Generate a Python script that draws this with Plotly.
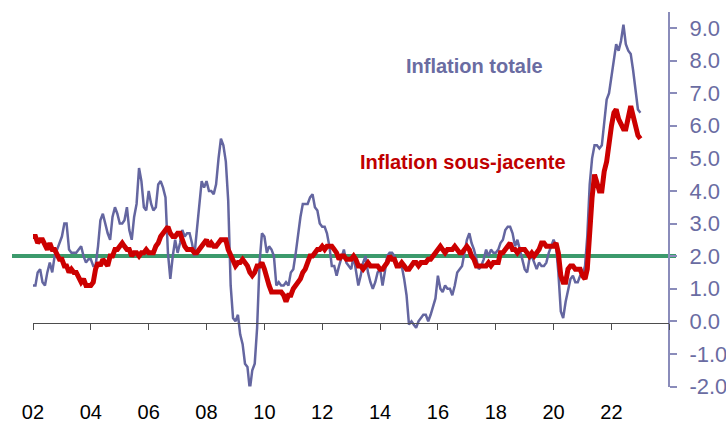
import plotly.graph_objects as go
import pandas as pd

# US CPI, 12-month % change, monthly Jan 2002 - Jan 2023
inflation_totale = [
    1.1, 1.1, 1.5, 1.6, 1.2, 1.1, 1.5, 1.8, 1.5, 2.0, 2.2, 2.4,   # 2002
    2.6, 3.0, 3.0, 2.2, 2.1, 2.1, 2.1, 2.2, 2.3, 2.0, 1.8, 1.9,   # 2003
    1.9, 1.7, 1.7, 2.3, 3.1, 3.3, 3.0, 2.7, 2.5, 3.2, 3.5, 3.3,   # 2004
    3.0, 3.0, 3.1, 3.5, 2.8, 2.5, 3.2, 3.6, 4.7, 4.3, 3.5, 3.4,   # 2005
    4.0, 3.6, 3.4, 3.5, 4.2, 4.3, 4.1, 3.8, 2.1, 1.3, 2.0, 2.5,   # 2006
    2.1, 2.4, 2.8, 2.6, 2.7, 2.7, 2.4, 2.0, 2.8, 3.5, 4.3, 4.1,   # 2007
    4.3, 4.0, 4.0, 3.9, 4.2, 5.0, 5.6, 5.4, 4.9, 3.7, 1.1, 0.1,   # 2008
    0.0, 0.2, -0.4, -0.7, -1.3, -1.4, -2.1, -1.5, -1.3, -0.2, 1.8, 2.7,  # 2009
    2.6, 2.1, 2.3, 2.2, 2.0, 1.1, 1.2, 1.1, 1.1, 1.2, 1.1, 1.5,   # 2010
    1.6, 2.1, 2.7, 3.2, 3.6, 3.6, 3.6, 3.8, 3.9, 3.5, 3.4, 3.0,   # 2011
    2.9, 2.9, 2.7, 2.3, 1.7, 1.7, 1.4, 1.7, 2.0, 2.2, 1.8, 1.7,   # 2012
    1.6, 2.0, 1.5, 1.1, 1.4, 1.8, 2.0, 1.5, 1.2, 1.0, 1.2, 1.5,   # 2013
    1.6, 1.1, 1.5, 2.0, 2.1, 2.1, 2.0, 1.7, 1.7, 1.7, 1.3, 0.8,   # 2014
    -0.1, 0.0, -0.1, -0.2, 0.0, 0.1, 0.2, 0.2, 0.0, 0.2, 0.5, 0.7,  # 2015
    1.4, 1.0, 0.9, 1.1, 1.0, 1.0, 0.8, 1.1, 1.5, 1.6, 1.7, 2.1,   # 2016
    2.5, 2.7, 2.4, 2.2, 1.9, 1.6, 1.7, 1.9, 2.2, 2.0, 2.2, 2.1,   # 2017
    2.1, 2.2, 2.4, 2.5, 2.8, 2.9, 2.9, 2.7, 2.3, 2.5, 2.2, 1.9,   # 2018
    1.6, 1.5, 1.9, 2.0, 1.8, 1.6, 1.8, 1.7, 1.7, 1.8, 2.1, 2.3,   # 2019
    2.5, 2.3, 1.5, 0.3, 0.1, 0.6, 1.0, 1.3, 1.4, 1.2, 1.2, 1.4,   # 2020
    1.4, 1.7, 2.6, 4.2, 5.0, 5.4, 5.4, 5.3, 5.4, 6.2, 6.8, 7.0,   # 2021
    7.5, 7.9, 8.5, 8.3, 8.6, 9.1, 8.5, 8.3, 8.2, 7.7, 7.1, 6.5,   # 2022
    6.4,                                                          # 2023
]

inflation_sous_jacente = [
    2.6, 2.6, 2.4, 2.5, 2.5, 2.3, 2.2, 2.4, 2.2, 2.2, 2.0, 1.9,   # 2002
    1.9, 1.7, 1.7, 1.5, 1.6, 1.5, 1.5, 1.3, 1.2, 1.3, 1.1, 1.1,   # 2003
    1.1, 1.2, 1.6, 1.8, 1.7, 1.9, 1.8, 1.7, 2.0, 2.0, 2.2, 2.2,   # 2004
    2.3, 2.4, 2.3, 2.2, 2.2, 2.0, 2.1, 2.1, 2.0, 2.1, 2.1, 2.2,   # 2005
    2.1, 2.1, 2.1, 2.3, 2.4, 2.6, 2.7, 2.8, 2.9, 2.7, 2.6, 2.6,   # 2006
    2.7, 2.7, 2.5, 2.3, 2.2, 2.2, 2.2, 2.1, 2.1, 2.2, 2.3, 2.4,   # 2007
    2.5, 2.3, 2.4, 2.3, 2.3, 2.4, 2.5, 2.5, 2.5, 2.2, 2.0, 1.8,   # 2008
    1.7, 1.8, 1.8, 1.9, 1.8, 1.7, 1.5, 1.4, 1.5, 1.7, 1.7, 1.8,   # 2009
    1.6, 1.3, 1.1, 0.9, 0.9, 0.9, 0.9, 0.9, 0.8, 0.6, 0.8, 0.8,   # 2010
    1.0, 1.1, 1.2, 1.3, 1.5, 1.6, 1.8, 2.0, 2.0, 2.1, 2.2, 2.2,   # 2011
    2.3, 2.2, 2.3, 2.3, 2.3, 2.2, 2.1, 1.9, 2.0, 2.0, 1.9, 1.9,   # 2012
    1.9, 2.0, 1.9, 1.7, 1.7, 1.6, 1.7, 1.8, 1.7, 1.7, 1.7, 1.7,   # 2013
    1.6, 1.6, 1.7, 1.8, 2.0, 1.9, 1.9, 1.7, 1.7, 1.8, 1.7, 1.6,   # 2014
    1.6, 1.7, 1.8, 1.8, 1.7, 1.8, 1.8, 1.8, 1.9, 1.9, 2.0, 2.1,   # 2015
    2.2, 2.3, 2.2, 2.1, 2.2, 2.2, 2.2, 2.3, 2.2, 2.1, 2.1, 2.2,   # 2016
    2.3, 2.2, 2.0, 1.9, 1.7, 1.7, 1.7, 1.7, 1.7, 1.8, 1.7, 1.8,   # 2017
    1.8, 1.8, 2.1, 2.1, 2.2, 2.3, 2.4, 2.2, 2.2, 2.1, 2.2, 2.2,   # 2018
    2.2, 2.1, 2.0, 2.1, 2.0, 2.1, 2.2, 2.4, 2.4, 2.3, 2.3, 2.3,   # 2019
    2.3, 2.4, 2.1, 1.4, 1.2, 1.2, 1.6, 1.7, 1.7, 1.6, 1.6, 1.6,   # 2020
    1.4, 1.3, 1.6, 3.0, 3.8, 4.5, 4.3, 4.0, 4.0, 4.6, 4.9, 5.5,   # 2021
    6.0, 6.4, 6.5, 6.2, 6.0, 5.9, 5.9, 6.3, 6.6, 6.3, 6.0, 5.7,   # 2022
    5.6,                                                          # 2023
]

dates = pd.date_range("2002-01-01", periods=len(inflation_totale), freq="MS")

cible = 2.0
year_ticks = [str(y) + "-01-01" for y in range(2002, 2023, 2)]
year_labels = ["%02d" % (y % 100) for y in range(2002, 2023, 2)]
axis_ticks = [str(y) + "-01-01" for y in range(2002, 2025, 2)]
y_ticks = list(range(-2, 10))
y_labels = ["%.1f" % v for v in y_ticks]

# colours
BLEU = "#6466A0"
ROUGE = "#CC0000"
VERT = "#3C9A6C"
AXE_Y = "#8A8CBA"
TXT_Y = "#6A6CA2"

W, H = 726, 424


def px(xp):
    return xp / W


def py(yp):
    return 1 - yp / H


x_full = ["2001-04-11", "2024-03-26"]

fig = go.Figure()

# 2% line
fig.add_trace(go.Scatter(
    x=x_full, y=[cible, cible], mode="lines",
    line=dict(color=VERT, width=4), xaxis="x", yaxis="y", hoverinfo="skip"
))

fig.add_trace(go.Scatter(
    x=dates, y=inflation_totale, mode="lines", name="Inflation totale",
    line=dict(color=BLEU, width=2.5), xaxis="x2", yaxis="y"
))

fig.add_trace(go.Scatter(
    x=dates, y=inflation_sous_jacente, mode="lines", name="Inflation sous-jacente",
    line=dict(color=ROUGE, width=5), xaxis="x2", yaxis="y"
))

fig.update_layout(
    width=W, height=H,
    margin=dict(l=0, r=0, t=0, b=0, pad=0),
    paper_bgcolor="white", plot_bgcolor="rgba(0,0,0,0)",
    showlegend=False,
    font=dict(family="Liberation Sans, Arial, sans-serif"),
    xaxis=dict(
        type="date", domain=[px(12), px(676)], range=x_full, automargin=False,
        tickvals=year_ticks, ticktext=year_labels,
        ticks="", showline=False, showgrid=False, zeroline=False,
        tickfont=dict(size=20, color="black"), ticklabelstandoff=11,
    ),
    xaxis2=dict(
        type="date", domain=[px(33), px(669.3)], range=["2002-01-01", "2024-01-01"],
        anchor="free", position=py(322.5), automargin=False,
        tickvals=axis_ticks, showticklabels=False,
        ticks="outside", ticklen=6, tickcolor="#4d4d4d", tickwidth=1.3,
        showline=True, linecolor="#4d4d4d", linewidth=1.3,
        showgrid=False, zeroline=False,
    ),
    yaxis=dict(
        domain=[py(386.5), py(11.6)], range=[-2, 9.5], automargin=False,
        anchor="free", position=px(669.3), side="right",
        tickvals=y_ticks, ticktext=y_labels,
        ticks="outside", ticklen=7, tickcolor=AXE_Y, tickwidth=1.5,
        showline=True, linecolor=AXE_Y, linewidth=1.5,
        showgrid=False, zeroline=False,
        tickfont=dict(size=22, color=TXT_Y), ticklabelstandoff=8,
    ),
    annotations=[
        dict(text="<b>Inflation totale</b>", xref="paper", yref="paper",
             x=px(474), y=py(66), xanchor="center", yanchor="middle",
             showarrow=False,
             font=dict(family="Liberation Sans, Arial, sans-serif",
                       size=20, color=TXT_Y)),
        dict(text="<b>Inflation sous-jacente</b>", xref="paper", yref="paper",
             x=px(463), y=py(162), xanchor="center", yanchor="middle",
             showarrow=False,
             font=dict(family="Liberation Sans, Arial, sans-serif",
                       size=20, color="#C00000")),
    ],
)

fig.write_html("out.html", config={"displayModeBar": False},
               post_script="document.body.style.margin='0';")
